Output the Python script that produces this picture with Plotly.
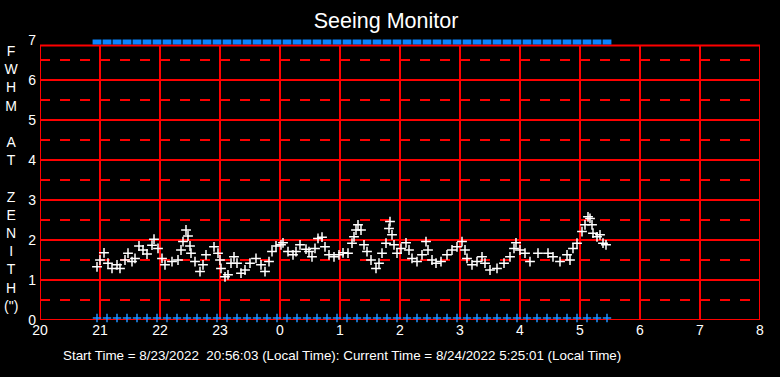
import plotly.graph_objects as go

# Minutes after 20:00 (local time) and FWHM at zenith (arcsec)
seeing_minutes = [57, 60, 64, 68, 72, 77, 80, 85, 88, 92, 95, 99, 103, 107, 112, 114, 118, 122, 125, 132,
                  138, 141, 143, 146, 148, 150, 151, 155, 160, 163, 166, 174, 178, 180, 181, 185, 188, 191,
                  194, 197, 201, 205, 210, 216, 221, 225, 229, 232, 236, 241, 243, 248, 253, 256, 260, 266,
                  269, 272, 275, 278, 282, 285, 289, 294, 299, 303, 308, 312, 314, 316, 318, 321, 324, 327,
                  331, 336, 339, 342, 346, 349, 350, 352, 354, 357, 361, 366, 369, 372, 377, 382, 386, 388,
                  392, 396, 401, 407, 412, 417, 422, 425, 427, 432, 437, 442, 445, 450, 457, 464, 470, 474,
                  476, 480, 485, 490, 498, 508, 513, 520, 527, 530, 533, 537, 542, 545, 548, 550, 552, 553,
                  557, 560, 563, 566]
seeing_fwhm = [1.33, 1.5, 1.68, 1.42, 1.29, 1.38, 1.29, 1.5, 1.67, 1.46, 1.54, 1.85, 1.75, 1.65, 1.87, 2.02, 1.79, 1.54, 1.38, 1.46,
               1.5, 1.75, 1.96, 2.25, 2.1, 1.85, 1.67, 1.46, 1.21, 1.38, 1.63, 1.83, 1.67, 1.5, 1.29, 1.08, 1.13, 1.42,
               1.58, 1.42, 1.17, 1.25, 1.42, 1.54, 1.38, 1.21, 1.46, 1.71, 1.85, 1.88, 1.93, 1.71, 1.63, 1.71, 1.88, 1.77,
               1.71, 1.58, 1.79, 2.04, 2.07, 1.83, 1.63, 1.58, 1.63, 1.68, 1.67, 1.92, 2.08, 2.25, 2.38, 2.25, 1.88, 1.71,
               1.5, 1.29, 1.42, 1.67, 1.92, 2.29, 2.46, 2.13, 1.88, 1.67, 1.79, 1.93, 1.75, 1.54, 1.46, 1.63, 1.96, 1.75,
               1.5, 1.42, 1.46, 1.63, 1.75, 1.83, 1.96, 1.75, 1.54, 1.38, 1.46, 1.58, 1.42, 1.25, 1.29, 1.42, 1.58, 1.79,
               1.93, 1.75, 1.67, 1.46, 1.67, 1.67, 1.58, 1.46, 1.63, 1.5, 1.79, 1.92, 2.21, 2.38, 2.58, 2.54, 2.38, 2.17,
               2.08, 2.13, 1.92, 1.88]

# Status markers (minutes after 20:00)
status_minutes = [57, 67, 77, 87, 97, 107, 117, 127, 137, 147, 157, 167, 177, 187, 197, 207, 217, 227,
                  237, 247, 257, 267, 277, 287, 297, 307, 317, 327, 337, 347, 357, 367, 377, 387, 397, 407,
                  417, 427, 437, 447, 457, 467, 477, 487, 497, 507, 517, 527, 537, 547, 557, 567]
status_top = 6.95
status_bottom = 0.05

tick_vals = [20, 21, 22, 23, 24, 25, 26, 27, 28, 29, 30, 31, 32]
tick_text = ["20", "21", "22", "23", "0", "1", "2", "3", "4", "5", "6", "7", "8"]

x_seeing = [20 + m / 60 for m in seeing_minutes]
x_status = [20 + m / 60 for m in status_minutes]

fig = go.Figure()

fig.add_trace(go.Scatter(
    x=x_status, y=[status_top] * len(x_status), mode="markers",
    marker=dict(symbol="line-ew", size=6.3, line=dict(color="#0a84ff", width=5)),
    cliponaxis=False, hoverinfo="skip", showlegend=False))
fig.add_trace(go.Scatter(
    x=x_status, y=[status_bottom] * len(x_status), mode="markers",
    marker=dict(symbol="cross-thin", size=6, line=dict(color="#1e8fff", width=1.5)),
    cliponaxis=False, hoverinfo="skip", showlegend=False))
fig.add_trace(go.Scatter(
    x=x_seeing, y=seeing_fwhm, mode="markers",
    marker=dict(symbol="cross-thin", size=7, line=dict(color="white", width=1.5)),
    cliponaxis=False, showlegend=False))

red = "#ff0000"
frame_top = 6.86
shapes = []
for v in range(21, 32):
    shapes.append(dict(type="line", xref="x", yref="y", x0=v, x1=v, y0=0, y1=frame_top,
                       line=dict(color=red, width=2), layer="below"))
for h in range(1, 7):
    shapes.append(dict(type="line", xref="x", yref="y", x0=20, x1=32, y0=h, y1=h,
                       line=dict(color=red, width=2), layer="below"))
for h in [0.5, 1.5, 2.5, 3.5, 4.5, 5.5, 6.5]:
    shapes.append(dict(type="line", xref="x", yref="y", x0=20, x1=32, y0=h, y1=h,
                       line=dict(color=red, width=2, dash="10px,10px"), layer="below"))
shapes.append(dict(type="rect", xref="x", yref="y", x0=20, x1=32, y0=0, y1=frame_top,
                   line=dict(color=red, width=2), layer="below"))

font = "Liberation Sans, Arial, sans-serif"
fig.update_layout(
    width=780, height=377,
    margin=dict(l=40, r=20, t=40, b=57),
    paper_bgcolor="black", plot_bgcolor="black",
    shapes=shapes,
    title=dict(text="Seeing Monitor", x=0.495, xref="container", xanchor="center",
               y=0.947, yref="container", yanchor="middle",
               font=dict(family=font, size=21.5, color="white")),
    xaxis=dict(range=[20, 32], tickvals=tick_vals, ticktext=tick_text, showgrid=False,
               zeroline=False, showline=False, ticks="", fixedrange=True,
               tickfont=dict(family=font, size=14, color="white")),
    yaxis=dict(range=[0, 7], dtick=1, showgrid=False, zeroline=False, showline=False, ticks="",
               fixedrange=True, ticklabelstandoff=3,
               tickfont=dict(family=font, size=14, color="white")),
    annotations=[
        dict(text="F<br>W<br>H<br>M<br> <br>A<br>T<br> <br>Z<br>E<br>N<br>I<br>T<br>H<br>(\")",
             xref="paper", yref="paper", x=-0.0389, y=0.5036, xanchor="center", yanchor="middle",
             showarrow=False, font=dict(family=font, size=14, color="white")),
        dict(text="Start Time = 8/23/2022\u00a0 20:56:03 (Local Time): Current Time = 8/24/2022 5:25:01 (Local Time)",
             xref="paper", yref="paper", x=0.419, y=-0.125, xanchor="center", yanchor="middle",
             showarrow=False, font=dict(family=font, size=13.4, color="white")),
    ],
)

fig.write_html("out.html", config={"displayModeBar": False},
               post_script="document.body.style.margin='0px';")
